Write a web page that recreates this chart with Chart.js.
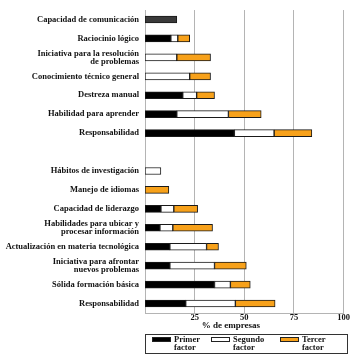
<!DOCTYPE html>
<html>
<head>
<meta charset="utf-8">
<script src="https://cdn.jsdelivr.net/npm/chart.js@4"></script>
<style>
  html, body { margin: 0; padding: 0; background: #fff; }
  #wrap { position: relative; width: 350px; height: 354px; }
  #legend {
    position: absolute; left: 145px; top: 334px; width: 203px; height: 20px;
    border: 1px solid #333; box-sizing: border-box;
    font: bold 8.5px "Liberation Serif", serif; line-height: 8px; color: #111;
  }
  .item { position: absolute; top: 0; }
  .box { position: absolute; top: 2px; width: 19px; height: 5px; border: 1px solid #222; box-sizing: border-box; }
  .lbl { position: absolute; top: 0; white-space: nowrap; }
</style>
</head>
<body>
<div id="wrap">
  <canvas id="chart" width="350" height="354"></canvas>
  <div id="legend"></div>
</div>
<script>
(function () {
  "use strict";

  var categories = [
    "Capacidad de comunicación",
    "Raciocinio lógico",
    ["Iniciativa para la resolución", "de problemas"],
    "Conocimiento técnico general",
    "Destreza manual",
    "Habilidad para aprender",
    "Responsabilidad",
    "",
    "Hábitos de investigación",
    "Manejo de idiomas",
    "Capacidad de liderazgo",
    ["Habilidades para ubicar y", "procesar información"],
    "Actualización en materia tecnológica",
    ["Iniciativa para afrontar", "nuevos problemas"],
    "Sólida formación básica",
    "Responsabilidad"
  ];

  var primerFactor  = [16, 13, null, null, 19, 16, 45, null, null, null, 8, 7.5, 12.5, 12.5, 35, 20.5];
  var segundoFactor = [null, 3.5, 16, 22.5, 7, 26, 20, null, 8, null, 6.5, 6.5, 18.5, 22.5, 8, 25];
  var tercerFactor  = [null, 6, 17, 10.5, 9, 16.5, 19, null, null, 12, 12, 20, 6, 16, 10, 20];

  var xTicks = [25, 50, 75, 100];

  var seriesLabels = [["Primer", "factor"], ["Segundo", "factor"], ["Tercer", "factor"]];
  var seriesColors = ["#000000", "#ffffff", "#f7a11a"];

  // first bar is drawn in dark grey in the original
  var primerColors = primerFactor.map(function (v, i) { return i === 0 ? "#3a3a3a" : "#000000"; });

  var FONT = "'Liberation Serif', serif";

  function ds(label, data, color) {
    return {
      label: label.join(" "),
      data: data,
      backgroundColor: color,
      borderColor: "#1a1a1a",
      borderWidth: 1,
      borderSkipped: false,
      barThickness: 7
    };
  }

  new Chart(document.getElementById("chart"), {
    type: "bar",
    data: {
      labels: categories,
      datasets: [
        ds(seriesLabels[0], primerFactor, primerColors),
        ds(seriesLabels[1], segundoFactor, seriesColors[1]),
        ds(seriesLabels[2], tercerFactor, seriesColors[2])
      ]
    },
    options: {
      indexAxis: "y",
      responsive: false,
      animation: false,
      layout: { padding: { top: 1, right: 6, bottom: 23, left: 0 } },
      plugins: { legend: { display: false }, tooltip: { enabled: false } },
      scales: {
        x: {
          stacked: true,
          min: 0,
          max: 100,
          afterBuildTicks: function (s) {
            s.ticks = xTicks.map(function (v) { return { value: v }; });
          },
          afterFit: function (s) { s.height = 18; },
          grid: { color: "#b4b4b4", lineWidth: 1, drawTicks: false },
          border: { display: true, color: "#b4b4b4" },
          ticks: {
            color: "#111",
            padding: 0,
            maxRotation: 0,
            font: { family: FONT, size: 8.5, weight: "bold" }
          },
          title: {
            display: true,
            // trailing spaces push the centred title left, as in the original
            text: "% de empresas\u2002\u2002\u2002\u2002\u2002\u2002",
            color: "#111",
            padding: 0,
            font: { family: FONT, size: 9, weight: "bold" }
          }
        },
        y: {
          stacked: true,
          afterFit: function (s) { s.width = 145; },
          grid: { display: false, drawTicks: false },
          border: { display: true, color: "#b4b4b4" },
          ticks: {
            color: "#111",
            padding: 6,
            autoSkip: false,
            font: { family: FONT, size: 8.5, weight: "bold", lineHeight: 0.95 }
          }
        }
      }
    }
  });

  /* ── Legend ─────────────────────────────── */

  var legend = document.getElementById("legend");
  var boxX = [6, 65, 134];
  seriesLabels.forEach(function (lab, i) {
    var item = document.createElement("div");
    item.className = "item";
    item.style.left = boxX[i] + "px";
    var box = document.createElement("div");
    box.className = "box";
    box.style.background = seriesColors[i];
    var t = document.createElement("div");
    t.className = "lbl";
    t.style.left = "22px";
    t.innerHTML = lab.join("<br>");
    item.appendChild(box);
    item.appendChild(t);
    legend.appendChild(item);
  });
})();
</script>
</body>
</html>
